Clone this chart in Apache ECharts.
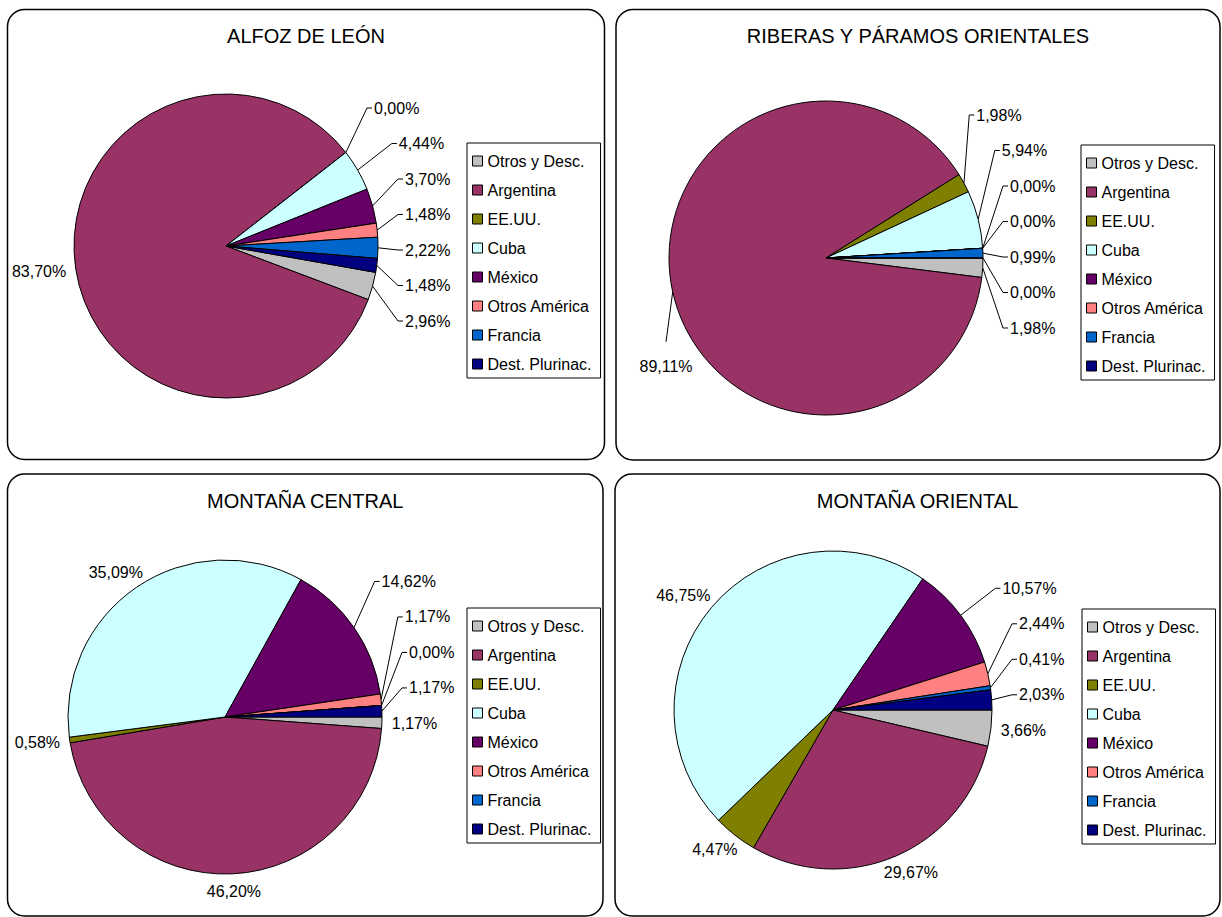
<!DOCTYPE html>
<html>
<head>
<meta charset="utf-8">
<title>Destinos por comarca</title>
<script src="https://cdn.jsdelivr.net/npm/echarts@6/dist/echarts.min.js"></script>
<style>
  html, body { margin: 0; padding: 0; background: #fff; }
  #main { width: 1222px; height: 917px; }
</style>
</head>
<body>
<div id="main"></div>
<script>
var categories = ['Otros y Desc.', 'Argentina', 'EE.UU.', 'Cuba', 'México', 'Otros América', 'Francia', 'Dest. Plurinac.'];
var colors = ['#C0C0C0', '#993366', '#808000', '#CCFFFF', '#660066', '#FF8080', '#0066CC', '#000080'];

var titles = ['ALFOZ DE LEÓN', 'RIBERAS Y PÁRAMOS ORIENTALES', 'MONTAÑA CENTRAL', 'MONTAÑA ORIENTAL'];
// % por destino, mismo orden que categories
var alfozLeon = [2.96, 83.70, 0.00, 4.44, 3.70, 1.48, 2.22, 1.48];
var riberasParamos = [1.98, 89.11, 1.98, 5.94, 0.00, 0.00, 0.99, 0.00];
var montanaCentral = [1.17, 46.20, 0.58, 35.09, 14.62, 1.17, 0.00, 1.17];
var montanaOriental = [3.66, 29.67, 4.47, 46.75, 10.57, 2.44, 0.41, 2.03];
var seriesValues = [alfozLeon, riberasParamos, montanaCentral, montanaOriental];

var FONT = '"Liberation Sans", Arial, sans-serif';
var GAP = 35.5; // separacion vertical entre etiquetas apiladas

// marcos, centro/radio de la tarta y posicion de la leyenda (px)
var panels = [
  { box: [7.5, 9.5, 604.5, 459.5], center: [226, 246], r: 152, startAngle: -10, legend: [467, 143] },
  { box: [616, 9.5, 1220, 460], center: [826, 258], r: 157, startAngle: 0, legend: [1081, 145], nudge: { 1: [29, 71] } },
  { box: [7.5, 474, 603, 916], center: [225, 717], r: 157, startAngle: 0, legend: [467, 608] },
  { box: [615, 474, 1220, 916], center: [833, 710], r: 159, startAngle: 0, legend: [1082, 609] }
];

function fmt(p) {
  return p.value.toFixed(2).replace('.', ',') + '%';
}

// colocacion de etiquetas al estilo Excel: las de la derecha se apilan hacia arriba
function planLabels(values, p) {
  var sum = values.reduce(function (a, b) { return a + b; }, 0);
  var cy = p.center[1], r = p.r;
  var a = -p.startAngle;
  var items = values.map(function (v, i) {
    var span = v / sum * 360;
    var mid = a + span / 2;
    a += span;
    mid = ((mid + 180) % 360 + 360) % 360 - 180;
    var t = mid * Math.PI / 180;
    var d = { i: i, mid: mid, cos: Math.cos(t), sin: Math.sin(t) };
    d.yNat = cy + (r + 18) * d.sin;
    d.y = d.yNat;
    return d;
  });
  var right = items.filter(function (d) { return d.cos > 0.2; })
    .sort(function (m, n) { return (n.mid - m.mid) || (n.i - m.i); });
  for (var k = 1; k < right.length; k++) {
    right[k].y = Math.min(right[k].yNat, right[k - 1].y - GAP);
  }
  var minTop = cy - r + 14;
  var top = right[right.length - 1].y;
  if (top < minTop) {
    right.forEach(function (d) { d.y += minTop - top; });
  }
  items.forEach(function (d) {
    d.stacked = Math.abs(d.y - d.yNat) > 0.5;
    d.nudge = p.nudge ? p.nudge[d.i] : null;
  });
  return items;
}

function makeLabelLayout(plan, p) {
  return function (params) {
    var d = plan[params.dataIndex];
    var cx = p.center[0], cy = p.center[1], r = p.r;
    var w = params.labelRect.width, h = 16;
    var edge = [cx + r * d.cos, cy + r * d.sin];
    if (d.nudge) {
      var nx = cx + (r + 10 + w / 2) * d.cos + d.nudge[0];
      var ny = cy + (r + 10 + h / 2) * d.sin + d.nudge[1];
      return { x: nx, y: ny, align: 'center', verticalAlign: 'middle',
        labelLinePoints: [edge, [nx, ny - 25], [nx, ny - 25]] };
    }
    if (d.stacked) {
      var dy = d.y - cy;
      var dyc = dy > 0 ? Math.max(0, dy - 8) : Math.min(0, dy + 8);
      var R = r + 45;
      var dx = Math.min(r + 27, Math.sqrt(Math.max(0, R * R - dyc * dyc)));
      var x = cx + dx;
      return { x: x, y: d.y, align: 'left', verticalAlign: 'middle',
        labelLinePoints: [edge, [x - 7, d.y], [x - 2, d.y]] };
    }
    return { x: cx + (r + 10 + w / 2) * d.cos, y: cy + (r + 18) * d.sin,
      align: 'center', verticalAlign: 'middle' };
  };
}

var chartDom = document.getElementById('main');
var myChart = echarts.init(chartDom, null, { renderer: 'svg' });

var graphics = [];
panels.forEach(function (p, i) {
  var b = p.box;
  graphics.push({
    type: 'rect', silent: true, z: 0,
    shape: { x: b[0], y: b[1], width: b[2] - b[0], height: b[3] - b[1], r: 17 },
    style: { fill: 'none', stroke: '#000', lineWidth: 1.5 }
  });
  graphics.push({
    type: 'text', silent: true,
    x: (b[0] + b[2]) / 2, y: b[1] + 26.5,
    style: { text: titles[i], fontSize: 20, fontFamily: FONT, fill: '#000', align: 'center', verticalAlign: 'middle' }
  });
});

var option = {
  animation: false,
  backgroundColor: '#fff',
  graphic: graphics,
  legend: panels.map(function (p) {
    return {
      orient: 'vertical',
      left: p.legend[0],
      top: p.legend[1],
      data: categories,
      icon: 'rect',
      itemWidth: 10,
      itemHeight: 10,
      itemGap: 13,
      padding: [10, 9, 6, 5],
      borderColor: '#000',
      borderWidth: 1,
      borderRadius: 0,
      selectedMode: false,
      itemStyle: { borderColor: '#000', borderWidth: 1 },
      textStyle: { fontSize: 16, color: '#000', fontFamily: FONT }
    };
  }),
  series: seriesValues.map(function (vals, si) {
    var p = panels[si];
    var plan = planLabels(vals, p);
    return {
      name: titles[si],
      type: 'pie',
      center: p.center,
      radius: p.r,
      startAngle: p.startAngle,
      clockwise: true,
      avoidLabelOverlap: false,
      minShowLabelAngle: 0,
      itemStyle: { borderColor: '#000', borderWidth: 1 },
      label: { show: true, position: 'outside', fontSize: 16, color: '#000', fontFamily: FONT, formatter: fmt },
      labelLine: { show: true, length: 10, length2: 5, lineStyle: { color: '#000', width: 1 } },
      labelLayout: makeLabelLayout(plan, p),
      emphasis: { disabled: true },
      data: vals.map(function (v, i) {
        return {
          name: categories[i],
          value: v,
          itemStyle: { color: colors[i] },
          labelLine: { show: plan[i].stacked || !!plan[i].nudge }
        };
      })
    };
  })
};

option && myChart.setOption(option);
</script>
</body>
</html>
